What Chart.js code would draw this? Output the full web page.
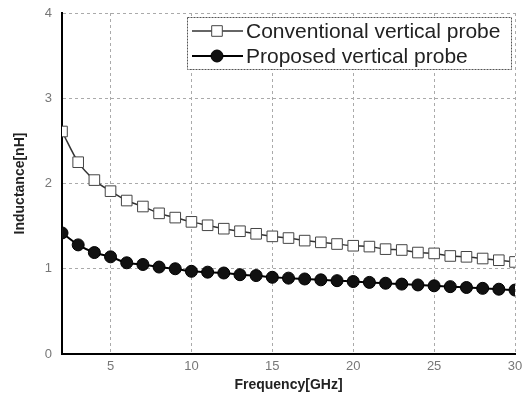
<!DOCTYPE html>
<html>
<head>
<meta charset="utf-8">
<script src="https://cdn.jsdelivr.net/npm/chart.js@4"></script>
<style>
  html, body { margin: 0; padding: 0; background: #fff; }
  #wrap { width: 531px; height: 405px; }
</style>
</head>
<body>
<div id="wrap"><canvas id="c" width="531" height="405"></canvas></div>
<script>
// frequency points (GHz)
var freq = [2, 3, 4, 5, 6, 7, 8, 9, 10, 11, 12, 13, 14, 15, 16, 17, 18, 19, 20, 21, 22, 23, 24, 25, 26, 27, 28, 29, 30];
var conventional = [2.61, 2.25, 2.04, 1.91, 1.80, 1.73, 1.65, 1.60, 1.55, 1.51, 1.47, 1.44, 1.41, 1.38, 1.36, 1.33, 1.31, 1.29, 1.27, 1.26, 1.23, 1.22, 1.19, 1.18, 1.15, 1.14, 1.12, 1.10, 1.08];
var proposed = [1.42, 1.28, 1.19, 1.14, 1.07, 1.05, 1.02, 1.00, 0.97, 0.96, 0.95, 0.93, 0.92, 0.90, 0.89, 0.88, 0.87, 0.86, 0.85, 0.84, 0.83, 0.82, 0.81, 0.80, 0.79, 0.78, 0.77, 0.76, 0.75];
var xTicks = [5, 10, 15, 20, 25, 30];
var yTicks = [0, 1, 2, 3, 4];
var seriesNames = ["Conventional vertical probe", "Proposed vertical probe"];

var FONT = "'Liberation Sans', Arial, sans-serif";

function pairs(xs, ys) {
  return xs.map(function (x, i) { return { x: x, y: ys[i] }; });
}

// legend drawn inside the plot, line + marker like the original
var boxLegend = {
  id: "boxLegend",
  afterDraw: function (chart) {
    var ctx = chart.ctx;
    var x0 = 187, y0 = 17, w = 324, h = 52;
    ctx.save();
    ctx.fillStyle = "#fff";
    ctx.fillRect(x0, y0, w, h);
    ctx.strokeStyle = "#555";
    ctx.lineWidth = 1;
    ctx.setLineDash([2, 1]);
    ctx.strokeRect(x0 + 0.5, y0 + 0.5, w, h);
    ctx.setLineDash([]);
    ctx.font = "21px " + FONT;
    ctx.textBaseline = "middle";
    chart.data.datasets.forEach(function (ds, i) {
      var cy = y0 + 14 + i * 25;
      ctx.strokeStyle = ds.borderColor;
      ctx.lineWidth = ds.borderWidth;
      ctx.beginPath();
      ctx.moveTo(x0 + 5, cy);
      ctx.lineTo(x0 + 56, cy);
      ctx.stroke();
      ctx.fillStyle = ds.pointBackgroundColor;
      ctx.strokeStyle = ds.pointBorderColor;
      ctx.lineWidth = ds.pointBorderWidth;
      Chart.helpers.drawPoint(ctx, {
        pointStyle: ds.pointStyle,
        radius: ds.pointRadius,
        borderWidth: ds.pointBorderWidth
      }, x0 + 30, cy);
      ctx.fillStyle = "#222";
      ctx.fillText(seriesNames[i], x0 + 59, cy + 1);
    });
    ctx.restore();
  }
};

new Chart(document.getElementById("c"), {
  type: "line",
  data: {
    datasets: [
      {
        label: seriesNames[0],
        data: pairs(freq, conventional),
        borderColor: "#333",
        borderWidth: 1.5,
        pointStyle: "rect",
        pointRadius: 7.5,
        pointBorderWidth: 1,
        pointBackgroundColor: "#fff",
        pointBorderColor: "#444",
        backgroundColor: "#fff",
        cubicInterpolationMode: "monotone",
        order: 1
      },
      {
        label: seriesNames[1],
        data: pairs(freq, proposed),
        borderColor: "#000",
        borderWidth: 2,
        pointStyle: "circle",
        pointRadius: 6,
        pointBorderWidth: 1,
        pointBackgroundColor: "#111",
        pointBorderColor: "#000",
        backgroundColor: "#111",
        cubicInterpolationMode: "monotone",
        order: 2
      }
    ]
  },
  options: {
    responsive: false,
    animation: false,
    layout: { padding: { left: 0, right: 16, top: 13, bottom: 0 } },
    plugins: { legend: { display: false }, tooltip: { enabled: false } },
    scales: {
      x: {
        type: "linear",
        min: 2,
        max: 30,
        afterBuildTicks: function (axis) {
          axis.ticks = xTicks.map(function (v) { return { value: v }; });
        },
        afterFit: function (axis) { axis.height = 51; },
        grid: { color: "#aaa", lineWidth: 1, drawTicks: false },
        border: { display: true, color: "#000", width: 2, dash: [3, 3] },
        ticks: {
          color: "#777",
          padding: 5,
          maxRotation: 0,
          font: { family: FONT, size: 13 }
        },
        title: {
          display: true,
          text: "Frequency[GHz]",
          color: "#222",
          padding: { top: 0, bottom: 11 },
          font: { family: FONT, size: 14, weight: "bold" }
        }
      },
      y: {
        min: 0,
        max: 4,
        afterBuildTicks: function (axis) {
          axis.ticks = yTicks.map(function (v) { return { value: v }; });
        },
        afterFit: function (axis) {
          axis.width = 62;
          axis.paddingTop = 0;
          axis.paddingBottom = 0;
        },
        grid: { color: "#aaa", lineWidth: 1, drawTicks: false },
        border: { display: true, color: "#000", width: 2, dash: [3, 3] },
        ticks: {
          color: "#777",
          padding: 10,
          font: { family: FONT, size: 13 }
        },
        title: {
          display: true,
          text: "Inductance[nH]",
          color: "#222",
          padding: { top: 12, bottom: 0 },
          font: { family: FONT, size: 14, weight: "bold" }
        }
      }
    }
  },
  plugins: [boxLegend]
});
</script>
</body>
</html>
